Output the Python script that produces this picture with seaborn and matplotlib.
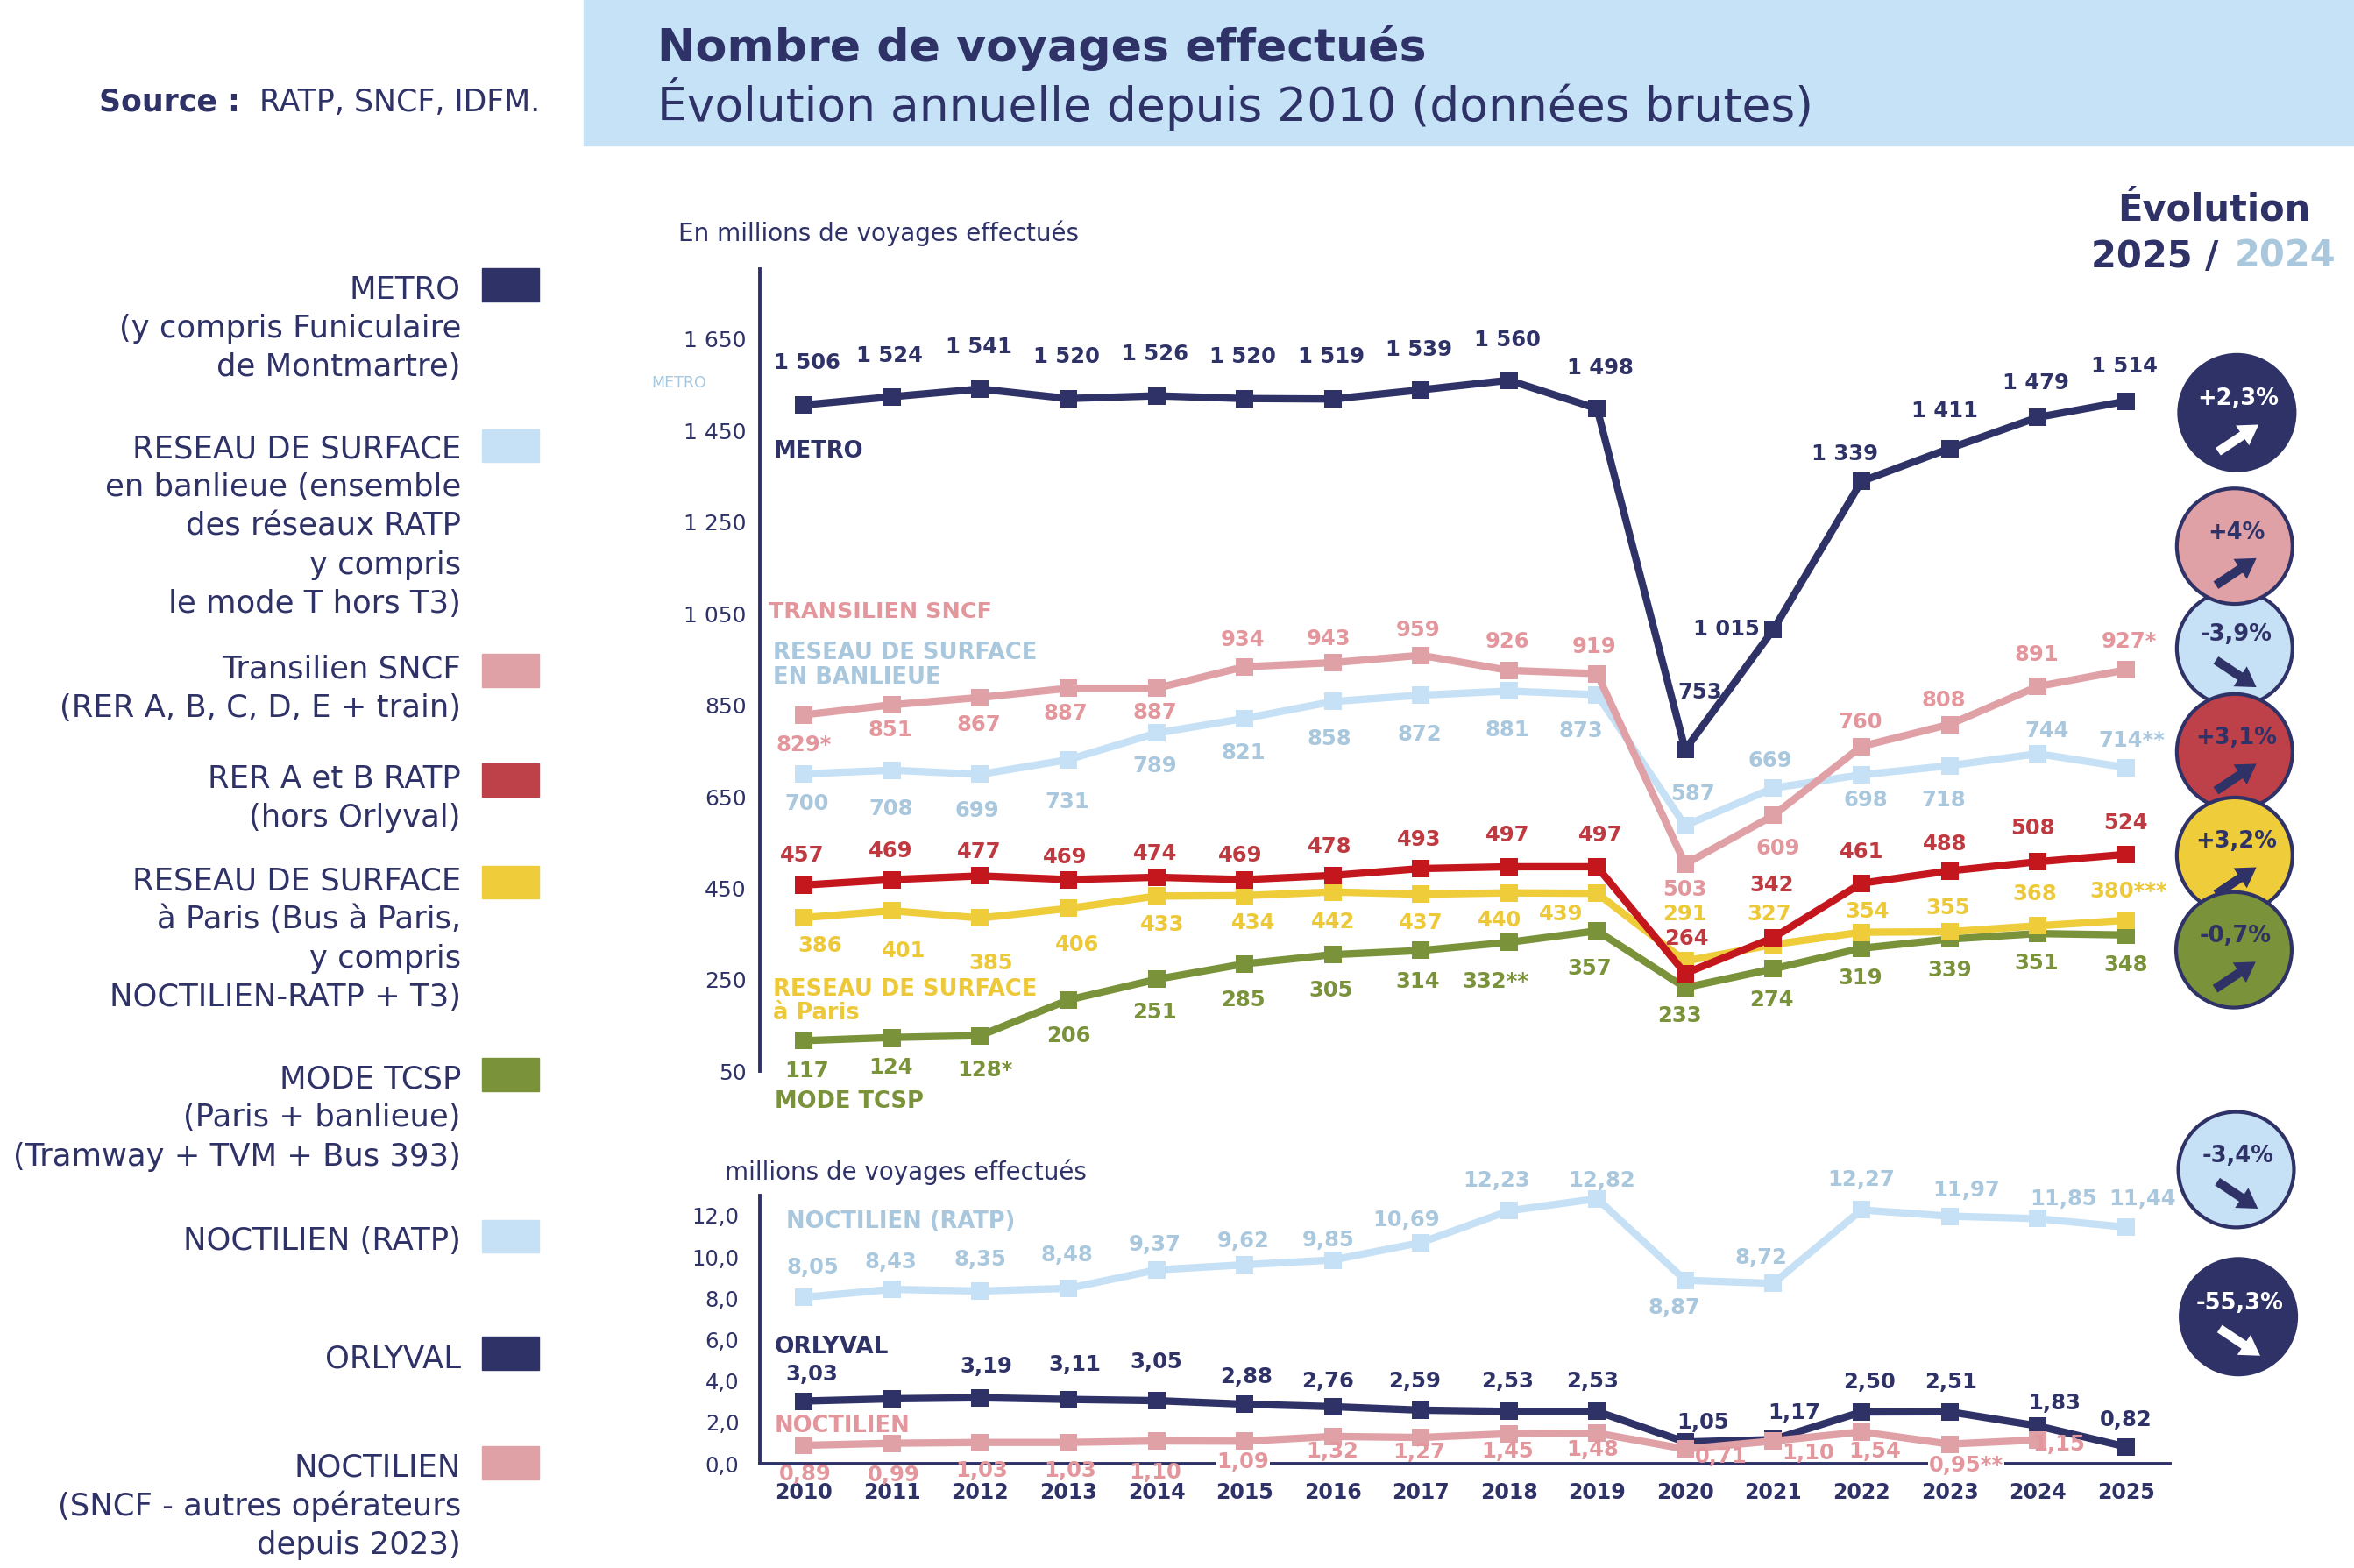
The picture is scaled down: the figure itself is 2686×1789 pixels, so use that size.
import numpy as np
import pandas as pd
import matplotlib.pyplot as plt
import seaborn as sns
from matplotlib.patches import Circle, Rectangle

# --- Data: millions de voyages, 2010-2025 ---
years = list(range(2010, 2026))
year_labels = [str(y) for y in years]

metro = [1506, 1524, 1541, 1520, 1526, 1520, 1519, 1539, 1560, 1498, 753, 1015, 1339, 1411, 1479, 1514]
surface_banlieue = [700, 708, 699, 731, 789, 821, 858, 872, 881, 873, 587, 669, 698, 718, 744, 714]
transilien = [829, 851, 867, 887, 887, 934, 943, 959, 926, 919, 503, 609, 760, 808, 891, 927]
rer_ratp = [457, 469, 477, 469, 474, 469, 478, 493, 497, 497, 264, 342, 461, 488, 508, 524]
surface_paris = [386, 401, 385, 406, 433, 434, 442, 437, 440, 439, 291, 327, 354, 355, 368, 380]
tcsp = [117, 124, 128, 206, 251, 285, 305, 314, 332, 357, 233, 274, 319, 339, 351, 348]

noctilien_ratp = [8.05, 8.43, 8.35, 8.48, 9.37, 9.62, 9.85, 10.69, 12.23, 12.82, 8.87, 8.72, 12.27, 11.97, 11.85, 11.44]
orlyval = [3.03, 3.14, 3.19, 3.11, 3.05, 2.88, 2.76, 2.59, 2.53, 2.53, 1.05, 1.17, 2.50, 2.51, 1.83, 0.82]
noctilien_sncf = [0.89, 0.99, 1.03, 1.03, 1.10, 1.09, 1.32, 1.27, 1.45, 1.48, 0.71, 1.10, 1.54, 0.95, 1.15]  # 2010-2024
noctilien_sncf_years = years[:15]

# footnote marks printed next to some values
transilien_notes = {2010: '*', 2025: '*'}
banlieue_notes = {2025: '**'}
paris_notes = {2025: '***'}
tcsp_notes = {2012: '*', 2018: '**'}
nsncf_notes = {2023: '**'}
orlyval_unlabelled = [2011]

top_ticks = [50, 250, 450, 650, 850, 1050, 1250, 1450, 1650]
bot_ticks = [0, 2, 4, 6, 8, 10, 12]

evolution_labels = ['+2,3%', '+4%', '-3,9%', '+3,1%', '+3,2%', '-0,7%', '-3,4%', '-55,3%']
evolution_up = [True, True, False, True, True, True, False, False]

# --- Colours ---
NAVY = '#2F3267'
PINK, PINK_TXT = '#E0A1A6', '#E3979D'
LBLUE, LBLUE_TXT = '#C6E1F6', '#A9C7DD'
RED, RED_TXT, RED_BOX = '#C3171D', '#BF3A40', '#BE4048'
YELLOW, YELLOW_TXT = '#EECC3A', '#EDC93A'
GREEN = '#7A9239'
HEADER = '#C5E2F7'

# --- label offsets (reference pixels, dx right / dy down) ---
metro_off = [(2, -28), (-2, -27), (-1, -28), (-1, -28), (-1, -28), (-1, -28), (-1, -28), (-1, -27), (-1, -27), (2, -27),
             (10, -38), (-31, 0), (-11, -18), (-3, -25), (-1, -23), (-1, -23)]
transilien_off = [(0, 20), (-1, 17), (-1, 18), (-2, 17), (-1, 16), (-1, -18), (-3, -16), (-2, -17), (-1, -19), (-2, -18),
                  (0, 17), (3, 22), (-1, -16), (-4, -16), (-1, -21), (2, -19)]
banlieue_off = [(2, 20), (-1, 26), (-2, 24), (-1, 28), (-1, 22), (-1, 23), (-2, 25), (-1, 26), (-1, 26), (-11, 24),
                (5, -21), (-2, -18), (3, 17), (-4, 23), (6, -15), (4, -18)]
rer_off = [(-1, -20), (-1, -19), (-1, -16), (-2, -15), (-1, -16), (-3, -16), (-2, -19), (-1, -19), (-1, -21), (2, -21),
           (1, -23), (-1, -35), (0, -21), (-3, -18), (-3, -22), (0, -21)]
paris_off = [(11, 19), (8, 27), (7, 30), (6, 24), (4, 19), (6, 18), (0, 20), (0, 19), (-6, 18), (-24, 14),
             (0, -31), (-3, -20), (4, -14), (-1, -16), (-2, -21), (2, -19)]
tcsp_off = [(2, 20), (-1, 20), (3, 23), (0, 24), (-1, 22), (-1, 24), (-1, 24), (-2, 21), (-9, 26), (-5, 25),
            (-4, 19), (-1, 21), (-1, 20), (0, 21), (-1, 20), (0, 20)]
nratp_off = [(6, -20), (-1, -18), (0, -21), (-1, -22), (-1, -17), (-1, -16), (-3, -13), (-10, -15), (-8, -20), (3, -12),
             (-7, 18), (-8, -17), (0, -20), (11, -17), (17, -13), (11, -19)]
orly_off = [(5, -18), (0, -20), (4, -21), (4, -23), (0, -26), (1, -18), (-3, -17), (-4, -19), (-1, -20), (-3, -20),
            (12, -13), (14, -18), (5, -20), (1, -20), (11, -15), (0, -18)]
nsncf_off = [(1, 19), (1, 21), (1, 19), (1, 19), (-1, 21), (-1, 14), (0, 10), (-1, 10), (-1, 12), (-3, 11),
             (24, 5), (23, 8), (9, 13), (11, 14), (14, 3)]

W, H = 1568.0, 1045.0          # reference layout units
PT = (2686 / W) * 72 / 100      # one layout unit in points


def txt_int(v, note=''):
    return f"{v:,}".replace(',', ' ') + note


def txt_dec(v, note=''):
    return f"{v:.2f}".replace('.', ',') + note


sns.set_style("white")
plt.rcParams['font.family'] = ['DejaVu Sans']

fig = plt.figure(figsize=(26.86, 17.89), dpi=100)

ov = fig.add_axes([0, 0, 1, 1], zorder=0)
ov.set_xlim(0, W)
ov.set_ylim(H, 0)
ov.axis('off')

x_left, x_right = 506.15, 1445.35
ax_top = fig.add_axes([x_left / W, 1 - 714 / H, (x_right - x_left) / W, (714 - 179.6) / H], zorder=2)
ax_bot = fig.add_axes([x_left / W, 1 - 975.5 / H, (x_right - x_left) / W, (975.5 - 797) / H], zorder=2)
for ax in (ax_top, ax_bot):
    ax.patch.set_alpha(0)
    ax.set_xlim(2009.5, 2025.5)
    for s in ('top', 'right'):
        ax.spines[s].set_visible(False)
    ax.spines['left'].set_color(NAVY)
    ax.spines['left'].set_linewidth(2.8)

ax_top.set_ylim(50, 1802)
ax_bot.set_ylim(0, 12.95)

# --- top chart lines ---
top_df = pd.DataFrame({
    'annee': years * 6,
    'voyages': tcsp + surface_paris + rer_ratp + surface_banlieue + transilien + metro,
    'serie': (['tcsp'] * 16 + ['paris'] * 16 + ['rer'] * 16 + ['banlieue'] * 16
              + ['transilien'] * 16 + ['metro'] * 16),
})
line_col = {'tcsp': GREEN, 'paris': YELLOW, 'rer': RED, 'banlieue': LBLUE, 'transilien': PINK, 'metro': NAVY,
            'nratp': LBLUE, 'orly': NAVY, 'nsncf': PINK}
for i, name in enumerate(['tcsp', 'paris', 'rer', 'banlieue', 'transilien', 'metro']):
    sns.lineplot(data=top_df[top_df.serie == name], x='annee', y='voyages', color=line_col[name],
                 linewidth=6, marker='s', markersize=14.5, markeredgewidth=0, legend=False,
                 ax=ax_top, clip_on=False, zorder=3 + i * 0.1)

bot_df = pd.DataFrame({
    'annee': years + years + noctilien_sncf_years,
    'voyages': noctilien_ratp + orlyval + noctilien_sncf,
    'serie': ['nratp'] * 16 + ['orly'] * 16 + ['nsncf'] * len(noctilien_sncf),
})
for i, name in enumerate(['nratp', 'orly', 'nsncf']):
    sns.lineplot(data=bot_df[bot_df.serie == name], x='annee', y='voyages', color=line_col[name],
                 linewidth=6, marker='s', markersize=14, markeredgewidth=0, legend=False,
                 ax=ax_bot, clip_on=False, zorder=3 + i * 0.1)


def put_labels(ax, xs, vals, offs, color, fmt, notes=None, skip=(), boxed=()):
    notes = notes or {}
    for x, v, (dx, dy) in zip(xs, vals, offs):
        if x in skip:
            continue
        bbox = dict(boxstyle='square,pad=0.05', fc='white', ec='none') if x in boxed else None
        ax.annotate(fmt(v, notes.get(x, '')), (x, v), xytext=(dx * PT, -dy * PT), textcoords='offset points',
                    ha='center', va='center', color=color, fontsize=17.5, fontweight='bold',
                    annotation_clip=False, zorder=6, bbox=bbox)


put_labels(ax_top, years, metro, metro_off, NAVY, txt_int)
put_labels(ax_top, years, transilien, transilien_off, PINK_TXT, txt_int, transilien_notes)
put_labels(ax_top, years, surface_banlieue, banlieue_off, LBLUE_TXT, txt_int, banlieue_notes)
put_labels(ax_top, years, rer_ratp, rer_off, RED_TXT, txt_int)
put_labels(ax_top, years, surface_paris, paris_off, YELLOW_TXT, txt_int, paris_notes)
put_labels(ax_top, years, tcsp, tcsp_off, GREEN, txt_int, tcsp_notes)
put_labels(ax_bot, years, noctilien_ratp, nratp_off, LBLUE_TXT, txt_dec)
put_labels(ax_bot, years, orlyval, orly_off, NAVY, txt_dec, skip=orlyval_unlabelled)
put_labels(ax_bot, noctilien_sncf_years, noctilien_sncf, nsncf_off, PINK_TXT, txt_dec, nsncf_notes,
           boxed=(2015, 2023))

# --- axes styling ---
ax_top.spines['bottom'].set_visible(False)
ax_top.set_xticks([])
ax_top.set_yticks(top_ticks)
ax_top.set_yticklabels([txt_int(t) for t in top_ticks])
ax_top.tick_params(axis='y', length=7, width=2.8, color=NAVY, labelcolor=NAVY, labelsize=18, pad=4)

ax_bot.spines['bottom'].set_color(NAVY)
ax_bot.spines['bottom'].set_linewidth(2.8)
ax_bot.set_yticks(bot_ticks)
ax_bot.set_yticklabels([f"{t:.1f}".replace('.', ',') for t in bot_ticks])
ax_bot.tick_params(axis='y', length=7, width=2.8, color=NAVY, labelcolor=NAVY, labelsize=17.5, pad=10)
ax_bot.set_xticks(years)
ax_bot.set_xticklabels(year_labels, fontweight='bold')
ax_bot.set_xticks([y - 0.5 for y in years] + [2025.5], minor=True)
ax_bot.tick_params(axis='x', which='major', length=0, labelcolor=NAVY, labelsize=17, pad=15)
ax_bot.tick_params(axis='x', which='minor', length=7, width=2.8, color=NAVY, direction='out')
for ax in (ax_top, ax_bot):
    ax.set_xlabel('')
    ax.set_ylabel('')

# --- header ---
ov.add_patch(Rectangle((389, 0), W - 389, 97, color=HEADER, zorder=0))
ov.text(438, 41, 'Nombre de voyages effectués', fontsize=37.5, fontweight='bold', color=NAVY, va='baseline')
ov.text(438, 80.5, 'Évolution annuelle depuis 2010 (données brutes)', fontsize=38.5, color=NAVY, va='baseline')
ov.text(66, 74, 'Source :', fontsize=25, fontweight='bold', color=NAVY, va='baseline')
ov.text(360, 74, 'RATP, SNCF, IDFM.', fontsize=25, color=NAVY, va='baseline', ha='right')

ov.text(452, 160.5, 'En millions de voyages effectués', fontsize=20, color=NAVY, va='baseline')
ov.text(482.5, 786, 'millions de voyages effectués', fontsize=20, color=NAVY, va='baseline')
ov.text(434, 258, 'METRO', fontsize=12.5, color=LBLUE_TXT, va='baseline')

# series names inside the plot
ov.text(515, 305, 'METRO', fontsize=18.5, fontweight='bold', color=NAVY, va='baseline')
ov.text(512, 412, 'TRANSILIEN SNCF', fontsize=18.3, fontweight='bold', color=PINK_TXT, va='baseline')
ov.text(515, 439, 'RESEAU DE SURFACE', fontsize=18.5, fontweight='bold', color=LBLUE_TXT, va='baseline')
ov.text(515, 455.5, 'EN BANLIEUE', fontsize=18.5, fontweight='bold', color=LBLUE_TXT, va='baseline')
ov.text(515, 663.5, 'RESEAU DE SURFACE', fontsize=18.5, fontweight='bold', color=YELLOW_TXT, va='baseline')
ov.text(515, 679.5, 'à Paris', fontsize=18.5, fontweight='bold', color=YELLOW_TXT, va='baseline')
ov.text(516, 738.5, 'MODE TCSP', fontsize=18.5, fontweight='bold', color=GREEN, va='baseline')
ov.text(523.5, 818.5, 'NOCTILIEN (RATP)', fontsize=18.5, fontweight='bold', color=LBLUE_TXT, va='baseline')
ov.text(515.6, 902, 'ORLYVAL', fontsize=19, fontweight='bold', color=NAVY, va='baseline')
ov.text(515.6, 954.5, 'NOCTILIEN', fontsize=18.5, fontweight='bold', color=PINK_TXT, va='baseline')

# --- left legend ---
legend_blocks = [
    (NAVY, 179, ['METRO', '(y compris Funiculaire', 'de Montmartre)'], 199),
    (LBLUE, 286, ['RESEAU DE SURFACE', 'en banlieue (ensemble', 'des réseaux RATP', 'y compris', 'le mode T hors T3)'], 305),
    (PINK, 436, ['Transilien SNCF', '(RER A, B, C, D, E + train)'], 452),
    (RED_BOX, 509, ['RER A et B RATP', '(hors Orlyval)'], 525),
    (YELLOW, 577, ['RESEAU DE SURFACE', 'à Paris (Bus à Paris,', 'y compris', 'NOCTILIEN-RATP + T3)'], 593),
    (GREEN, 705, ['MODE TCSP', '(Paris + banlieue)', '(Tramway + TVM + Bus 393)'], 725),
    (LBLUE, 813, ['NOCTILIEN (RATP)'], 833),
    (NAVY, 891, ['ORLYVAL'], 911.5),
    (PINK, 964, ['NOCTILIEN', '(SNCF - autres opérateurs', 'depuis 2023)'], 984),
]
for col, sy, lines, base in legend_blocks:
    ov.add_patch(Rectangle((321, sy), 38, 22, color=col, zorder=2))
    for k, line in enumerate(lines):
        ov.text(307, base + k * 25.8, line, fontsize=25.5, color=NAVY, ha='right', va='baseline')

# --- evolution 2025 / 2024 ---
ov.text(1475, 147, 'Évolution', fontsize=30, fontweight='bold', color=NAVY, ha='center', va='baseline')
ov.text(1478, 178, '2025 /', fontsize=30, fontweight='bold', color=NAVY, ha='right', va='baseline')
ov.text(1556, 178, '2024', fontsize=30, fontweight='bold', color=LBLUE_TXT, ha='right', va='baseline')

circle_xy = [(1490, 275), (1488.5, 364), (1488.5, 432), (1488.5, 501), (1488.5, 570), (1488, 633),
             (1489.5, 779.5), (1491, 877.5)]
circle_fill = [NAVY, PINK, LBLUE, RED_BOX, YELLOW, GREEN, LBLUE, NAVY]
circle_ink = ['white', NAVY, NAVY, NAVY, NAVY, NAVY, NAVY, 'white']
circle_z = [10, 12, 11, 13, 14, 15, 16, 17]
for (cx, cy), fc, ink, z, lab, up in zip(circle_xy, circle_fill, circle_ink, circle_z, evolution_labels, evolution_up):
    ov.add_patch(Circle((cx, cy), 38.5, fc=fc, ec=NAVY, lw=3, zorder=z))
    ov.text(cx + 1, cy - 9, lab, fontsize=18.5, fontweight='bold', color=ink, ha='center', va='center',
            zorder=z + 0.5)
    vx, vy = 27, (-18 if up else 18)
    ax0, ay0 = cx + 1 - vx / 2, cy + 17 - vy / 2
    ov.arrow(ax0, ay0, vx, vy, width=6, head_width=16, head_length=13, length_includes_head=True,
             fc=ink, ec='none', zorder=z + 0.5)

fig.savefig('out.png', dpi=100)
